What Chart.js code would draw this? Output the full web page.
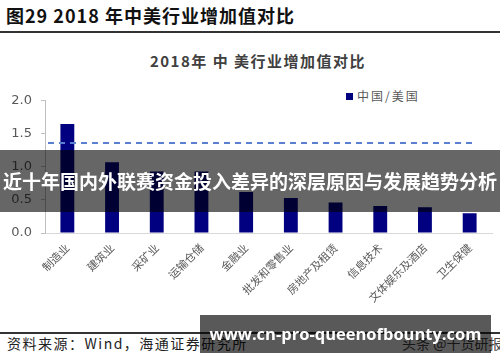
<!DOCTYPE html>
<html lang="zh">
<head>
    <meta charset="UTF-8">
    <meta name="viewport" content="width=device-width, initial-scale=1.0">
    <title>2018年中美行业增加值对比</title>
    <script src="https://cdn.jsdelivr.net/npm/chart.js"></script>
    <style>
        html, body { margin: 0; padding: 0; background: #fff; }
        .page {
            position: relative;
            width: 500px;
            height: 362px;
            overflow: hidden;
            font-family: "Noto Sans CJK SC", sans-serif;
        }
        .fig-title {
            position: absolute; left: 6px; top: 4px;
            font-size: 18px; font-weight: bold; color: #111;
            letter-spacing: 1px; white-space: nowrap; line-height: 22px;
        }
        .rule { position: absolute; left: 0; width: 500px; height: 2px; background: #333; }
        .chart-title {
            position: absolute; left: 8px; top: 50px; width: 500px;
            text-align: center; font-size: 15px; font-weight: bold;
            color: #404040; letter-spacing: 1.5px; line-height: 22px;
        }
        .legend {
            position: absolute; left: 346px; top: 87px;
            font-size: 12px; color: #595959; letter-spacing: 2px;
            line-height: 18px; white-space: nowrap;
        }
        .legend i {
            display: inline-block; width: 7px; height: 7px;
            background: #000080; margin-right: 4px; vertical-align: 1px;
        }
        .chart-wrap { position: absolute; left: 0; top: 84px; width: 500px; height: 236px; }
        .source {
            position: absolute; left: 7px; top: 333px;
            font-size: 14px; color: #222; letter-spacing: 1.5px;
            line-height: 20px; white-space: nowrap;
        }
        .source-right {
            position: absolute; left: 402px; top: 333px;
            font-size: 14px; color: #444; line-height: 20px; white-space: nowrap;
        }
        .band {
            position: absolute; background: rgba(0, 0, 0, 0.6);
            color: #fff; font-weight: bold; text-align: center; white-space: nowrap;
        }
        .band-mid {
            left: 0; top: 150px; width: 500px; height: 62px; line-height: 62px;
            font-size: 19px;
        }
        .band-low {
            left: 200px; top: 315px; width: 291px; height: 38px; line-height: 38px;
            font-size: 16.5px; font-family: "Open Sans", sans-serif;
            background: rgba(0, 0, 0, 0.65);
        }
    </style>
</head>
<body>
<div class="page">
    <div class="fig-title">图29 2018 年中美行业增加值对比</div>
    <div class="rule" style="top:31px"></div>
    <div class="chart-title">2018年 中 美行业增加值对比</div>
    <div class="legend"><i></i>中国/美国</div>

    <div class="chart-wrap">
        <canvas id="ratioChart" width="500" height="236"></canvas>
    </div>

    <div class="rule" style="top:332px"></div>
    <div class="source">资料来源：Wind，海通证券研究所</div>
    <div class="source-right">头条 @千货研报</div>

    <div class="band band-mid">近十年国内外联赛资金投入差异的深层原因与发展趋势分析</div>
    <div class="band band-low">www.cn-pro-queenofbounty.com</div>
</div>

<script>
    // 行业
    const industries = [
        '制造业', '建筑业', '采矿业', '运输仓储', '金融业',
        '批发和零售业', '房地产及租赁', '信息技术', '文体娱乐及酒店', '卫生保健'
    ];
    // 中国/美国 增加值之比
    const chinaUsRatio = [1.65, 1.07, 0.93, 0.93, 0.62, 0.53, 0.46, 0.41, 0.39, 0.30];
    // 虚线参考值
    const overallRatio = [1.36];
    // 纵轴刻度
    const yTicks = [0, 0.5, 1.0, 1.5, 2.0];

    // dashed reference line across the plot
    const refLine = {
        id: 'refLine',
        afterDatasetsDraw(chart) {
            const { ctx, chartArea, scales: { y } } = chart;
            const py = y.getPixelForValue(overallRatio[0]);
            ctx.save();
            ctx.strokeStyle = '#5b7fd1';
            ctx.lineWidth = 2;
            ctx.setLineDash([6, 5]);
            ctx.beginPath();
            ctx.moveTo(chartArea.left + 3, py);
            ctx.lineTo(chartArea.right - 15, py);
            ctx.stroke();
            ctx.restore();
        }
    };

    new Chart(document.getElementById('ratioChart'), {
        type: 'bar',
        data: {
            labels: industries,
            datasets: [{
                label: '中国/美国',
                data: chinaUsRatio,
                backgroundColor: '#000080',
                borderWidth: 0,
                barPercentage: 0.31,
                categoryPercentage: 1
            }]
        },
        options: {
            responsive: false,
            animation: false,
            layout: { padding: { top: 6, right: 8, left: 0, bottom: 0 } },
            plugins: {
                legend: { display: false },
                tooltip: { enabled: false }
            },
            scales: {
                x: {
                    grid: { display: false, drawTicks: false },
                    border: { display: true, color: '#d9d9d9', width: 1 },
                    ticks: {
                        minRotation: 45,
                        maxRotation: 45,
                        padding: 8,
                        color: '#595959',
                        font: { family: '"Noto Sans CJK SC", sans-serif', size: 11 }
                    },
                    afterFit(scale) { scale.height = 87; }
                },
                y: {
                    min: 0,
                    max: 2,
                    afterBuildTicks(scale) {
                        scale.ticks = yTicks.map(v => ({ value: v }));
                    },
                    grid: {
                        display: true,
                        drawOnChartArea: false,
                        drawTicks: true,
                        tickLength: 4,
                        color: '#bfbfbf'
                    },
                    border: { display: true, color: '#bfbfbf', width: 1 },
                    ticks: {
                        padding: 9,
                        color: '#595959',
                        font: { family: '"DejaVu Sans", sans-serif', size: 13 },
                        callback: v => v.toFixed(1)
                    },
                    afterFit(scale) { scale.width = 45; }
                }
            }
        },
        plugins: [refLine]
    });
</script>
</body>
</html>
